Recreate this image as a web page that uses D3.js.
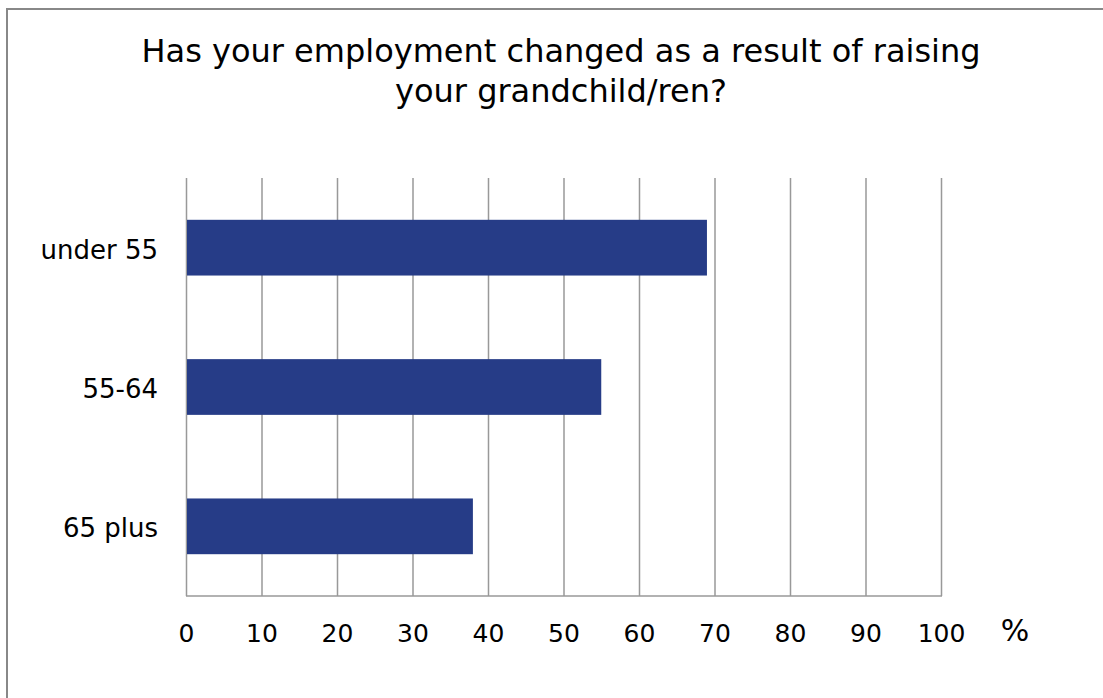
<!DOCTYPE html>
<html><head><meta charset="utf-8">
<script src="https://cdn.jsdelivr.net/npm/d3@7"></script>
<style>body{margin:0;background:#fff}svg{display:block}text{font-family:"DejaVu Sans",Verdana,sans-serif}</style>
</head><body>
<svg id="c" width="1103" height="698"></svg>
<script>
const categories = ["under 55", "55-64", "65 plus"];
const values = [69, 55, 38];
const ticks = [0,10,20,30,40,50,60,70,80,90,100];
const titleLines = ["Has your employment changed as a result of raising", "your grandchild/ren?"];
const unit = "%";

const svg = d3.select("#c");
svg.append("rect").attr("x",7).attr("y",9).attr("width",1110).attr("height",700)
  .attr("fill","#fff").attr("stroke","#888").attr("stroke-width",2);

const x = d3.scaleLinear().domain([0,100]).range([186,941]);
const y = d3.scaleBand().domain(categories).range([178,596]).paddingInner(0.6).paddingOuter(0.3);

svg.append("g").selectAll("line").data(ticks).join("line")
  .attr("x1",d=>x(d)+0.5).attr("x2",d=>x(d)+0.5).attr("y1",178).attr("y2",596)
  .attr("stroke","#999").attr("stroke-width",1.5);
svg.append("line").attr("x1",x(0)).attr("x2",x(100)+1).attr("y1",596).attr("y2",596)
  .attr("stroke","#999").attr("stroke-width",1.5);

svg.append("g").selectAll("rect").data(values).join("rect")
  .attr("x",x(0)+1).attr("y",(d,i)=>y(categories[i]))
  .attr("width",d=>x(d)-x(0)-1).attr("height",y.bandwidth())
  .attr("fill","#263c87");

const ax = d3.axisBottom(x).tickValues(ticks).tickSize(0).tickPadding(0);
const gx = svg.append("g").attr("transform","translate(0,642)").call(ax);
gx.select(".domain").remove();
gx.selectAll("text").attr("font-size",25).attr("fill","#000").attr("dy","0").attr("y",0)
  .style("font-family",'"DejaVu Sans",Verdana,sans-serif');

const ay = d3.axisLeft(y).tickSize(0).tickPadding(0);
const gy = svg.append("g").attr("transform","translate(158,0)").call(ay);
gy.select(".domain").remove();
gy.selectAll("text").attr("font-size",26).attr("fill","#000").attr("dy","0.42em")
  .style("font-family",'"DejaVu Sans",Verdana,sans-serif');

svg.append("text").attr("x",1015).attr("y",641).attr("text-anchor","middle")
  .attr("font-size",30).text(unit);

svg.append("g").selectAll("text").data(titleLines).join("text")
  .attr("x",561).attr("y",(d,i)=>62+i*40).attr("text-anchor","middle")
  .attr("font-size",32).attr("fill","#000").text(d=>d);
</script>
</body></html>
